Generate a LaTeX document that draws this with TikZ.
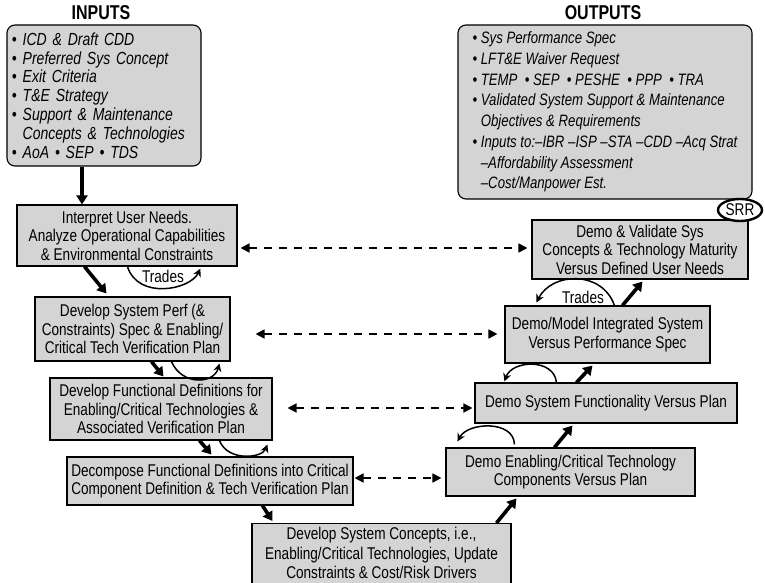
\documentclass[tikz,border=0pt]{standalone}
\usepackage{fontspec}
\setmainfont{Liberation Sans}[FakeStretch=0.8]
\usetikzlibrary{arrows.meta,shapes.geometric}

\newcommand{\ind}{\phantom{\textbullet\ }}

\begin{document}
\begin{tikzpicture}[
  x=1pt, y=-1pt,
  box/.style={rectangle, draw, line width=1.1pt, fill=black!17, align=center,
              inner sep=0pt, font=\fontsize{17}{18.5}\selectfont},
  list/.style={rectangle, draw, line width=1.1pt, fill=black!17, rounded corners=8pt,
               align=left, inner xsep=6pt, inner ysep=0pt},
  title/.style={font=\fontsize{20}{22}\selectfont\bfseries},
  flow/.style={line width=3.6pt, -{Triangle[length=9pt, width=11pt]}},
  link/.style={line width=1.6pt, dash pattern=on 8pt off 7pt,
               {Triangle[length=9pt, width=9pt]}-{Triangle[length=9pt, width=9pt]}},
  trade/.style={line width=1.5pt, -{Stealth[length=8pt, width=8pt]}},
  lbl/.style={font=\fontsize{17}{18}\selectfont, inner sep=1pt}
]
\useasboundingbox (0,0) rectangle (765,583);

% ---------- inputs / outputs ----------
\node[title] (intitle) at (101,13) {INPUTS};
\node[list, minimum width=194pt, minimum height=141pt, text width=184pt, inner xsep=5pt,
      font=\fontsize{17.5}{18.8}\selectfont\itshape] (inp) at (104,95.5)
  {\textbullet\ ICD \& Draft CDD\\
   \textbullet\ Preferred Sys Concept\\
   \textbullet\ Exit Criteria\\
   \textbullet\ T\&E Strategy\\
   \textbullet\ Support \& Maintenance\\
   \ind Concepts \& Technologies\\
   \textbullet\ AoA \textbullet\ SEP \textbullet\ TDS};

\node[title] (outtitle) at (603,13) {OUTPUTS};
\node[list, minimum width=294pt, minimum height=174pt, inner xsep=4pt,
      font=\fontsize{16.5}{20.7}\selectfont\itshape] (outp) at (605,112)
  {\textbullet\ Sys Performance Spec\\
   \textbullet\ LFT\&E Waiver Request\\
   \textbullet\ TEMP \ \textbullet\ SEP \ \textbullet\ PESHE \ \textbullet\ PPP \ \textbullet\ TRA\\
   \textbullet\ Validated System Support \& Maintenance\\
   \ind Objectives \& Requirements\\
   \textbullet\ Inputs to:--IBR --ISP --STA --CDD --Acq Strat\\
   \ind --Affordability Assessment\\
   \ind --Cost/Manpower Est.};

% ---------- left leg ----------
\node[box, minimum width=220pt, minimum height=61pt] (interp) at (127,235.5)
  {Interpret User Needs.\\Analyze Operational Capabilities\\\& Environmental Constraints};
\node[box, minimum width=195pt, minimum height=64pt] (perf) at (132.5,329)
  {Develop System Perf (\&\\Constraints) Spec \& Enabling/\\Critical Tech Verification Plan};
\node[box, minimum width=222pt, minimum height=62pt] (func) at (161,409)
  {Develop Functional Definitions for\\Enabling/Critical Technologies \&\\Associated Verification Plan};
\node[box, minimum width=286pt, minimum height=48pt] (decomp) at (210,481)
  {Decompose Functional Definitions into Critical\\Component Definition \& Tech Verification Plan};
\node[box, minimum width=259pt, inner ysep=4pt, anchor=north,
      font=\fontsize{17}{19.5}\selectfont] (concept) at (381.5,523)
  {Develop System Concepts, i.e.,\\Enabling/Critical Technologies, Update\\Constraints \& Cost/Risk Drivers\\[4pt]};

% ---------- right leg ----------
\node[box, minimum width=216pt, minimum height=59pt] (validate) at (640,249.5)
  {Demo \& Validate Sys\\Concepts \& Technology Maturity\\Versus Defined User Needs};
\node[box, minimum width=205pt, minimum height=57pt] (model) at (607.5,334.5)
  {Demo/Model Integrated System\\Versus Performance Spec};
\node[box, minimum width=262pt, minimum height=40pt] (sysfun) at (606,403)
  {Demo System Functionality Versus Plan};
\node[box, minimum width=249pt, minimum height=48pt] (enab) at (570.5,472)
  {Demo Enabling/Critical Technology\\Components Versus Plan};

\node[ellipse, draw, line width=2.4pt, fill=white, minimum width=44pt, minimum height=22pt,
      inner sep=0pt, font=\fontsize{17}{18}\selectfont] (srr) at (740,210) {SRR};

% ---------- main flow ----------
\draw[flow] ([xshift=-22pt]inp.south) -- ([xshift=-22pt]inp.south |- interp.north);
\draw[flow] ([xshift=68pt]interp.south west) -- ([xshift=72pt, yshift=3pt]perf.north west);
\draw[flow] ([xshift=117pt]perf.south west) -- ([xshift=114pt, yshift=1pt]func.north west);
\draw[flow] ([xshift=150pt]func.south west) -- ([xshift=145pt, yshift=2pt]decomp.north west);
\draw[flow] ([xshift=196pt]decomp.south west) -- ([xshift=21pt, yshift=2pt]concept.north west);
\draw[flow] ([xshift=245pt]concept.north west) -- ([xshift=71pt, yshift=-2pt]enab.south west);
\draw[flow] ([xshift=109pt]enab.north west) -- ([xshift=98pt, yshift=-2pt]sysfun.south west);
\draw[flow] ([xshift=102pt]sysfun.north west) -- ([xshift=88pt, yshift=-2pt]model.south west);
\draw[flow] ([xshift=118pt]model.north west) -- ([xshift=111pt, yshift=-2pt]validate.south west);

% ---------- verification links ----------
\draw[link, shorten <=3pt, shorten >=4pt] (interp.east |- 0,248) -- (validate.west |- 0,248);
\draw[link, shorten <=25pt, shorten >=7pt] (perf.east |- 0,334) -- (model.west |- 0,334);
\draw[link, shorten <=15pt, shorten >=2pt] (func.east |- 0,408) -- (sysfun.west |- 0,408);
\draw[link, shorten <=1pt, shorten >=4pt] (decomp.east |- 0,478) -- (enab.west |- 0,478);

% ---------- trades loops ----------
\draw[trade] ([xshift=111pt]interp.south west) .. controls (138,300) and (190,290)
  .. ([xshift=184pt, yshift=-2pt]interp.south west);
\node[lbl] (trA) at (163,276) {Trades};
\draw[trade] ([xshift=137pt]perf.south west) .. controls (182,386) and (214,384)
  .. ([xshift=185pt, yshift=-2pt]perf.south west);
\draw[trade] ([xshift=170pt]func.south west) .. controls (228,462) and (262,458)
  .. ([xshift=218pt, yshift=-4pt]func.south west);

\draw[trade] ([xshift=110pt]model.north west) .. controls (602,270) and (552,272)
  .. ([xshift=32pt, yshift=3pt]model.north west);
\node[lbl] (trB) at (583,297) {Trades};
\draw[trade] ([xshift=82pt]sysfun.north west) .. controls (554,358) and (512,360)
  .. ([xshift=30pt, yshift=1pt]sysfun.north west);
\draw[trade] ([xshift=69pt, yshift=3pt]enab.north west) .. controls (514,420) and (468,422)
  .. ([xshift=12pt, yshift=6pt]enab.north west);
\end{tikzpicture}
\end{document}
